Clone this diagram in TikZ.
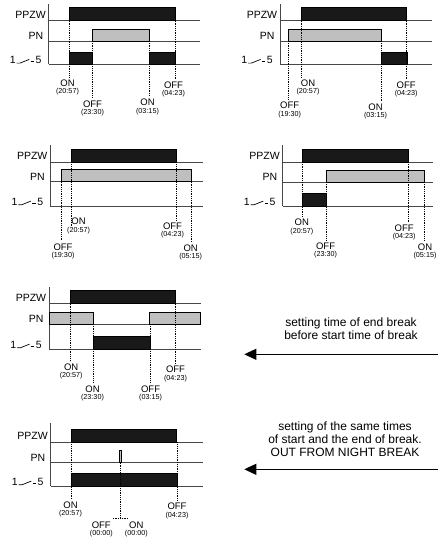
\documentclass[tikz,border=0pt]{standalone}
\usepackage{fontspec}
\setmainfont{Liberation Sans}
\usetikzlibrary{arrows.meta}
% timing panel: name, axis x, axis top, L1, L2, L3, line end
\newcommand\tpanel[7]{%
  \draw[axisline] (#2,#3) -- (#2,#6);
  \draw[signal] (#2,#4) -- (#7,#4);
  \draw[signal] (#2,#5) -- (#7,#5);
  \draw[signal] (#2,#6) -- (#7,#6);
  \node[rowlabel] (#1ppzw) at (#2-2.7,#4-2.4) {PPZW};
  \node[rowlabel] (#1pn) at (#2-5.4,#5-1.7) {PN};
  \node[rowlabel] (#1one) at (#2-32.7,#6-0.6) {1};
  \node[rowlabel] (#1five) at (#2-7,#6-0.6) {5};
  \draw[switchsym] (#2-32,#6-1.2) -- (#2-28.7,#6-1.2) -- (#2-19.4,#6-4.9);
  \draw[switchsym] (#2-18,#6-3) -- (#2-14.7,#6-3);
}
% time label: name, x, cap top, word, time
\newcommand\tlab[5]{%
  \node[onoff] (#1) at (#2,#3+7) {#4};
  \node[tstamp] (#1t) at (#2,#3+14.6) {(#5)};
}
\begin{document}
\begin{tikzpicture}[x=1pt,y=-1pt,
  signal/.style={draw=black!72,line width=0.9pt},
  axisline/.style={draw=black!72,line width=0.9pt},
  blackbar/.style={fill=black!90,draw=black,line width=0.6pt},
  graybar/.style={fill=black!25,draw=black,line width=0.8pt},
  guide/.style={draw=black,line width=0.7pt,dash pattern=on 0.7pt off 1.1pt},
  rowlabel/.style={font=\fontsize{10.5}{12}\selectfont,inner sep=0pt,anchor=base east},
  onoff/.style={font=\fontsize{9.5}{11}\selectfont,inner sep=0pt,anchor=base},
  tstamp/.style={font=\fontsize{7.2}{8}\selectfont,inner sep=0pt,anchor=base},
  note/.style={font=\fontsize{12}{13.3}\selectfont,align=center,inner sep=0pt,anchor=north},
  pointer/.style={draw=black,line width=1pt,-{Triangle[length=12pt,width=11pt]}},
  switchsym/.style={draw=black,line width=0.7pt}]
\useasboundingbox (0,0) rectangle (438,542);

% ---------- Panel 1 ----------
\tpanel{pa}{48.7}{4}{20.7}{41}{64.3}{200}
\draw[blackbar] (69.5,7.7) rectangle (175.5,20.7);
\draw[graybar] (92.3,29) rectangle (149.3,41);
\draw[blackbar] (69.5,52) rectangle (92.3,64.3);
\draw[blackbar] (149.3,52) rectangle (175.5,64.3);
\draw[guide] (69.5,20.7) -- (69.5,77);
\draw[guide] (92.3,41) -- (92.3,97.5);
\draw[guide] (149.3,41) -- (149.3,96.5);
\draw[guide] (175.5,20.7) -- (175.5,79);
\tlab{paon}{67.5}{79}{ON}{20:57}
\tlab{paoff}{92.5}{100}{OFF}{23:30}
\tlab{paon2}{147.5}{98.7}{ON}{03:15}
\tlab{paoff2}{173.5}{81}{OFF}{04:23}

% ---------- Panel 2 ----------
\tpanel{pb}{280}{4}{20.7}{41}{64.3}{431.7}
\draw[blackbar] (301.3,7.7) rectangle (406.7,20.7);
\draw[graybar] (288.7,29) rectangle (381,41);
\draw[blackbar] (381,52) rectangle (407.3,64.3);
\draw[guide] (288.7,41) -- (288.7,99.5);
\draw[guide] (301.3,20.7) -- (301.3,77);
\draw[guide] (381,41) -- (381,101);
\draw[guide] (406.7,20.7) -- (406.7,79);
\tlab{pboff}{289.7}{101.7}{OFF}{19:30}
\tlab{pbon}{308}{79}{ON}{20:57}
\tlab{pbon2}{375.5}{103.3}{ON}{03:15}
\tlab{pboff2}{406.2}{81}{OFF}{04:23}

% ---------- Panel 3 ----------
\tpanel{pc}{50.3}{145}{162.3}{181.7}{206}{203}
\draw[blackbar] (71.7,149.3) rectangle (176.7,162.3);
\draw[graybar] (61.7,169.7) rectangle (191,181.7);
\draw[guide] (61.7,181.7) -- (61.7,241);
\draw[guide] (71.7,162.3) -- (71.7,227);
\draw[guide] (176.7,162.3) -- (176.7,220);
\draw[guide] (191,181.7) -- (191,242);
\tlab{pcoff}{63}{243.3}{OFF}{19:30}
\tlab{pcon}{78.6}{217.7}{ON}{20:57}
\tlab{pcoff2}{172.5}{222.3}{OFF}{04:23}
\tlab{pcon2}{190.7}{244}{ON}{05:15}

% ---------- Panel 4 ----------
\tpanel{pd}{282.7}{145}{162}{182}{206}{433}
\draw[blackbar] (302.7,149) rectangle (408.7,162);
\draw[graybar] (326,170) rectangle (424.3,182);
\draw[blackbar] (302.7,193.7) rectangle (326,206);
\draw[guide] (302.7,162) -- (302.7,216.7);
\draw[guide] (326,182) -- (326,240.3);
\draw[guide] (408.7,162) -- (408.7,222);
\draw[guide] (424.3,182) -- (424.3,241.3);
\tlab{pdon}{301.8}{218.7}{ON}{20:57}
\tlab{pdoff}{325.6}{242.3}{OFF}{23:30}
\tlab{pdoff2}{404.2}{224}{OFF}{04:23}
\tlab{pdon2}{425}{243.3}{ON}{05:15}

% ---------- Panel 5 ----------
\tpanel{pe}{49}{287}{303.7}{324}{349}{201}
\draw[blackbar] (70.3,290.7) rectangle (175.7,303.7);
\draw[graybar] (49,312) rectangle (93.3,324);
\draw[graybar] (149,312) rectangle (200.7,324);
\draw[blackbar] (93.3,336.7) rectangle (150,349);
\draw[guide] (70.3,303.7) -- (70.3,361.3);
\draw[guide] (93.3,324) -- (93.3,383);
\draw[guide] (150,324) -- (150,383);
\draw[guide] (175.7,303.7) -- (175.7,363.7);
\tlab{peon}{71.2}{363.3}{ON}{20:57}
\tlab{peon2}{92.5}{385}{ON}{23:30}
\tlab{peoff}{150.6}{385}{OFF}{03:15}
\tlab{peoff2}{175.5}{365.7}{OFF}{04:23}

% ---------- Panel 6 ----------
\tpanel{pf}{50.7}{423}{442.3}{462.7}{486}{203}
\draw[blackbar] (71.7,429.3) rectangle (176.7,442.3);
\draw[graybar] (119,450.7) rectangle (121,462.7);
\draw[blackbar] (71.7,473.7) rectangle (177.3,486);
\draw[guide] (71.7,442.3) -- (71.7,499);
\draw[guide] (120,462.7) -- (120,518.3);
\draw[guide] (112.7,518.3) -- (127.3,518.3);
\draw[guide] (177.3,442.3) -- (177.3,500.7);
\tlab{pfon}{70.5}{501}{ON}{20:57}
\tlab{pfoff2}{177}{502.7}{OFF}{04:23}
\tlab{pfoff}{101.3}{521}{OFF}{00:00}
\tlab{pfon2}{136.3}{521}{ON}{00:00}

% ---------- Notes with arrows ----------
\node[note] (n1) at (351,317.3) {setting time of end break\\before start time of break};
\coordinate (a1s) at (438,354.3);
\coordinate (a1e) at (244.3,354.3);
\draw[pointer] (a1s) -- (a1e);

\node[note] (n2) at (345,421.3) {setting of the same times\\ of start and the end of break.\\OUT FROM NIGHT BREAK};
\coordinate (a2s) at (438,469.3);
\coordinate (a2e) at (244.3,469.3);
\draw[pointer] (a2s) -- (a2e);
\end{tikzpicture}
\end{document}
